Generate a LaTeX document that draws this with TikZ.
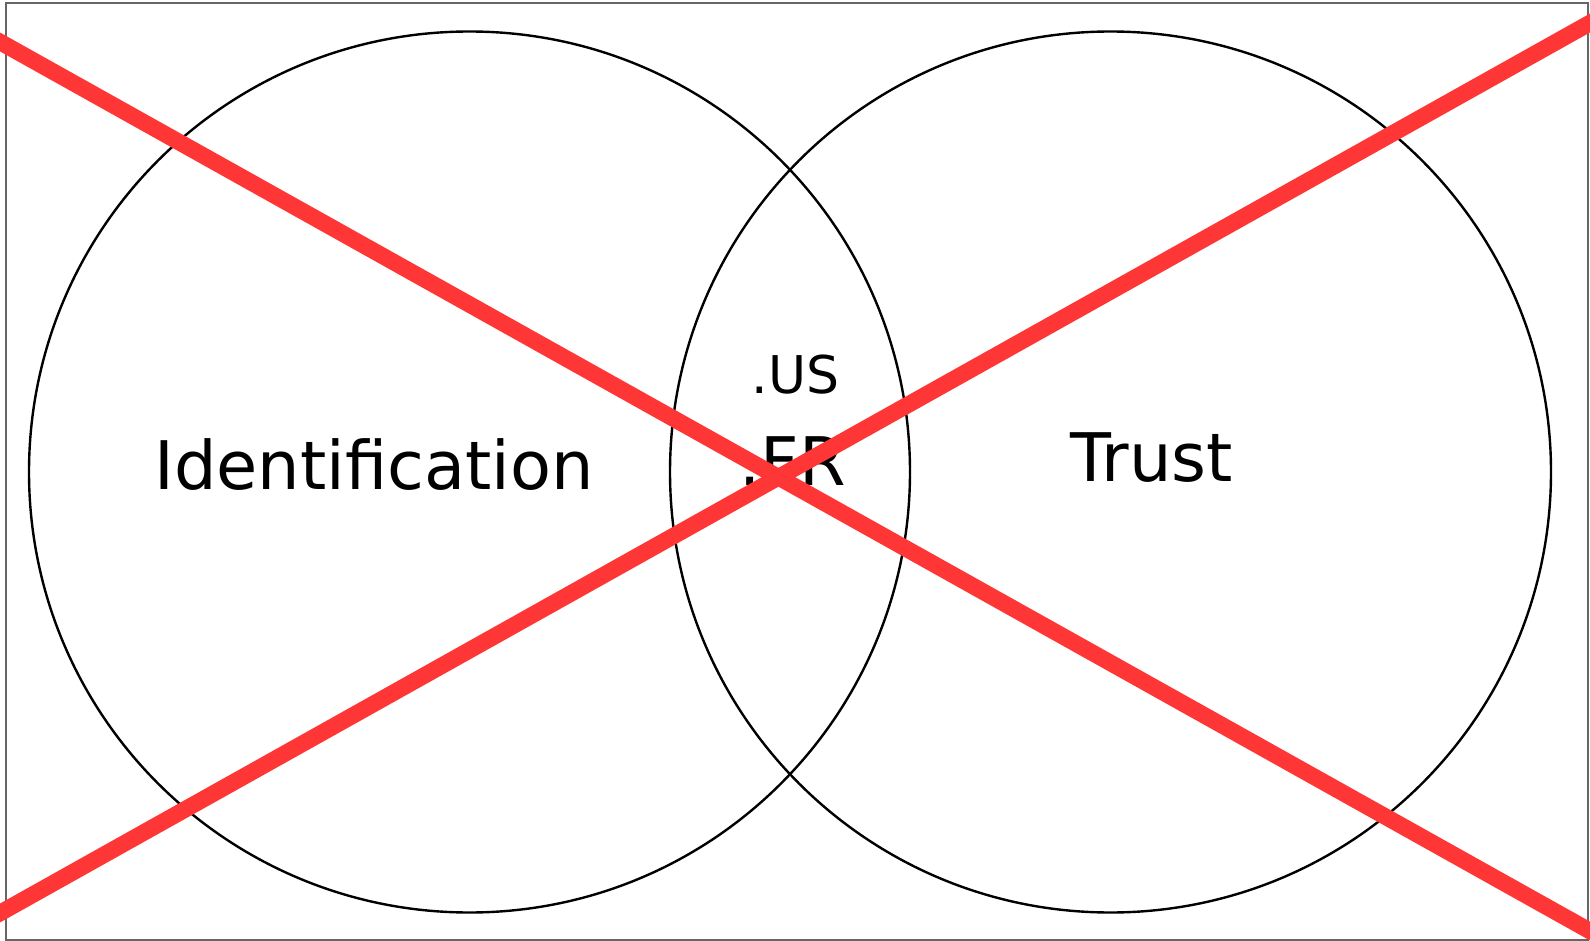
\documentclass[tikz,border=0pt]{standalone}
\usepackage{fontspec}
\setmainfont{DejaVu Sans}
\definecolor{crossred}{RGB}{255,54,54}
\begin{document}
\begin{tikzpicture}[x=1pt, y=-1pt,
    set/.style = {draw, circle, line width=2.4pt, minimum size=881pt, inner sep=0pt},
    big/.style = {inner sep=0pt, anchor=base, font=\fontsize{67}{80}\selectfont},
    small/.style = {inner sep=0pt, anchor=base, font=\fontsize{52}{60}\selectfont},
    cross/.style = {line width=16.5pt, crossred}]
    \useasboundingbox (0, 0) rectangle (1590, 941);
    \draw [black!60, line width=1.5pt] (6, 3) rectangle (1588, 940);

    \node[set] (ident) at (469.5, 472) {};
    \node[set] (trust) at (1110.5, 472) {};

    \node[big] (identlbl) at (374, 489) {Identification};
    \node[big] (trustlbl) at (1151.5, 481) {Trust};
    \node[small] (us) at (795.5, 393) {.US};
    \node[big] (fr) at (792.5, 485) {.FR};

    \coordinate (tl) at (-50, 14);
    \coordinate (br) at (1640, 959);
    \coordinate (bl) at (-50, 941);
    \coordinate (tr) at (1640, -5);

    \begin{scope}
    \clip (0, 0) rectangle (1590, 941);
    \draw [cross] (tl) -- (br);
    \draw [cross] (bl) -- (tr);
    \end{scope}
\end{tikzpicture}
\end{document}
